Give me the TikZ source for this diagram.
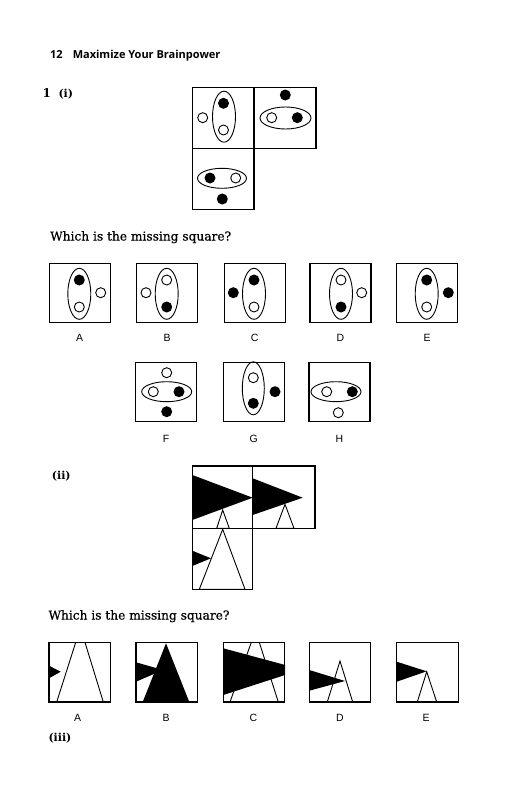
\documentclass[tikz,border=0pt]{standalone}
\usepackage{fontspec}
\setmainfont{DejaVu Serif}
\setsansfont{Liberation Sans}
\newfontfamily\headfont{Open Sans}
\newfontfamily\qfont[FakeBold=0.6]{DejaVu Serif}
\usetikzlibrary{calc}
\begin{document}
\begin{tikzpicture}[x=1pt,y=-1pt,line join=miter,
  sq/.style={draw,line width=1.2pt},
  ell/.style={draw,line width=0.9pt},
  lbl/.style={font=\sffamily\fontsize{10.5}{12}\selectfont,inner sep=0pt},
  qtext/.style={font=\qfont\fontsize{12.2}{14}\selectfont,inner sep=0pt,anchor=base west},
  num/.style={font=\bfseries\fontsize{12}{14}\selectfont,inner sep=0pt,anchor=base west},
  tri/.style={draw,line width=0.9pt,fill=white}]
\newcommand\wdot[2]{\draw[line width=0.9pt,fill=white] (#1,#2) circle[radius=5pt];}
\newcommand\bdot[2]{\fill (#1,#2) circle[radius=5.5pt];}
\newcommand\vell[2]{\draw[ell] (#1,#2) ellipse[x radius=11.5pt,y radius=25.5pt];}
\newcommand\hell[2]{\draw[ell] (#1,#2) ellipse[x radius=25pt,y radius=10pt];}
\useasboundingbox (0,0) rectangle (513,800);
\fill[white] (0,0) rectangle (513,800);
% header
\node[font=\headfont\bfseries\fontsize{11}{13}\selectfont,inner sep=0pt,anchor=base west] (head) at (50,59) {12\hspace{10pt}Maximize Your Brainpower};
\node[num] (n1) at (42.5,97) {1};
\node[num,font=\bfseries\fontsize{11}{14}\selectfont] (pi) at (58.3,97) {(i)};
% puzzle (i)
\draw[sq] (192.7,87.3) rectangle (254,148.3);
\draw[sq] (254,87.3) rectangle (316,148.3);
\draw[sq] (192.7,148.3) rectangle (254,209.3);
\wdot{202.7}{117.7}\vell{224}{116.7}\bdot{223.5}{103.3}\wdot{223.5}{130}
\bdot{285.3}{95}\draw[ell] (285.5,118) ellipse[x radius=25.5pt,y radius=11pt];\wdot{271.7}{117.7}\bdot{297.3}{117.7}
\draw[ell] (222,178.3) ellipse[x radius=24.5pt,y radius=10pt];\bdot{210}{178}\wdot{235.7}{178}\bdot{222.3}{199}
% question
\node[qtext] (q1) at (50,240.5) {Which is the missing square?};
% options A-E
\foreach \x/\l in {49.3/A,136.7/B,224.3/C,310/D,396.7/E}{
  \draw[sq] (\x,263.3) rectangle (\x+61,322.7);
  \node[lbl] (o\l) at (\x+30.3,338.3) {\l};
}
\vell{79.3}{293.8}\bdot{79.3}{280}\wdot{79.3}{307}\wdot{100.7}{292.7}
\vell{166.7}{293.8}\wdot{166.7}{280}\bdot{166.7}{307}\wdot{146}{292.7}
\vell{254}{293.8}\bdot{254}{280}\wdot{254}{307}\bdot{233.3}{292.7}
\vell{341}{293.8}\wdot{341}{280}\bdot{341}{307}\wdot{361.7}{292.7}
\vell{426.7}{293.8}\bdot{426.7}{280}\wdot{426.7}{307}\bdot{448.3}{292.7}
% options F-H
\foreach \x/\l in {135.7/F,223.3/G,309/H}{
  \draw[sq] (\x,362.3) rectangle (\x+61,421.7);
  \node[lbl] (o\l) at (\x+30.5,439.3) {\l};
}
\wdot{166.7}{372.7}\hell{166.7}{391.7}\wdot{153.3}{391.7}\bdot{179}{391.7}\bdot{166.7}{411.7}
\draw[ell] (253.3,388.3) ellipse[x radius=11pt,y radius=26.5pt];\wdot{253.3}{377.7}\bdot{253.3}{403.3}\bdot{275}{391.7}
\hell{336}{391.7}\wdot{326.7}{391.7}\bdot{352.3}{391.7}\wdot{338.3}{412.7}
% (ii)
\node[num,font=\bfseries\fontsize{11}{14}\selectfont] (pii) at (51.7,479) {(ii)};
\begin{scope}
\clip (192.3,466) rectangle (252.7,528.3);
\draw[tri] (222.7,510) -- (216.7,528.3) -- (229.3,528.3) -- cycle;
\fill (192.3,475) -- (252.7,497.7) -- (192.3,520) -- cycle;
\end{scope}
\begin{scope}
\clip (252.7,466) rectangle (315,528.3);
\draw[tri] (285,504.3) -- (276,528.3) -- (294,528.3) -- cycle;
\fill (252.7,478.3) -- (302.7,497.7) -- (252.7,515) -- cycle;
\end{scope}
\begin{scope}
\clip (192.3,528.3) rectangle (252.7,589.3);
\draw[tri] (222.7,529.3) -- (199.3,589.3) -- (245,589.3) -- cycle;
\fill (192.3,550.7) -- (211,558.3) -- (192.3,566) -- cycle;
\end{scope}
\draw[sq] (192.3,466) rectangle (252.7,528.3);
\draw[sq] (252.7,466) rectangle (315,528.3);
\draw[sq] (192.3,528.3) rectangle (252.7,589.3);
% question 2
\node[qtext] (q2) at (48.3,619.5) {Which is the missing square?};
% options (ii)
\begin{scope}
\clip (49,642.3) rectangle (110,702);
\draw[line width=0.9pt] (56.7,702) -- (79,632);
\draw[line width=0.9pt] (103.3,702) -- (81.8,632);
\fill (49,665.7) -- (60.7,671.7) -- (49,678.3) -- cycle;
\end{scope}
\begin{scope}
\clip (136,642.3) rectangle (197.3,702);
\fill (136,662.3) -- (163,670) -- (136,681.7) -- cycle;
\fill (166,643.3) -- (142.7,702) -- (189.3,702) -- cycle;
\end{scope}
\begin{scope}
\clip (223.3,642.3) rectangle (285,702);
\draw[line width=0.9pt] (230,702) -- (255,632) ;
\draw[line width=0.9pt] (278.3,702) -- (256,632);
\fill (223.3,648.3) -- (301.9,669.5) -- (223.3,695) -- cycle;
\end{scope}
\begin{scope}
\clip (309.3,642.3) rectangle (370.7,702);
\draw[tri] (340,661) -- (327.3,702) -- (352.7,702) -- cycle;
\fill (309.3,670) -- (345,681) -- (309.3,690.7) -- cycle;
\end{scope}
\begin{scope}
\clip (396.7,642.3) rectangle (458.3,702);
\draw[tri] (426.7,671.7) -- (417.3,702) -- (436.7,702) -- cycle;
\fill (396.7,661.7) -- (426.7,671.3) -- (396.7,681.7) -- cycle;
\end{scope}
\foreach \x/\l/\lx in {49/A/77.7,136/B/166,223.3/C/253.3,309.3/D/340,396.7/E/426}{
  \draw[sq] (\x,642.3) rectangle (\x+61.5,702);
  \node[lbl] (t\l) at (\lx,717.8) {\l};
}
\node[num,font=\bfseries\fontsize{11}{14}\selectfont] (piii) at (48.3,741) {(iii)};
\end{tikzpicture}
\end{document}
